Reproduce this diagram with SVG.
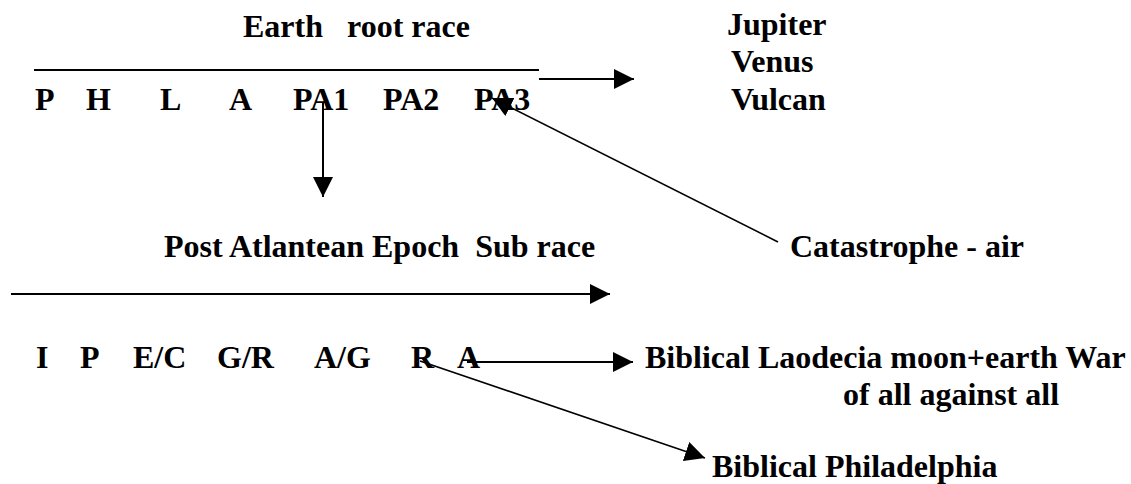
<svg xmlns="http://www.w3.org/2000/svg" width="1131" height="484" viewBox="0 0 1131 484">
<style>
text{font-family:'Liberation Serif','Times New Roman','DejaVu Serif',serif;font-weight:700;font-size:32px;fill:#000;white-space:pre}
.ln{stroke:#000;stroke-width:2;fill:none}
.dg{stroke:#000;stroke-width:1.6;fill:none}
</style>
<defs>
<marker id="ah" viewBox="0 0 20 20" refX="20" refY="10" markerWidth="20" markerHeight="20" markerUnits="userSpaceOnUse" orient="auto">
<path d="M0,0 L20,10 L0,20 z" fill="#000"/>
</marker>
</defs>
<rect width="1131" height="484" fill="#fff"/>
<g font-family="Liberation Serif, Times New Roman, serif">
<g id="title-earth"><text x="243" y="37" xml:space="preserve">Earth   root race</text></g>
<g id="root-races"><text y="110"><tspan x="35">P</tspan><tspan x="86">H</tspan><tspan x="160">L</tspan><tspan x="229">A</tspan><tspan x="293">PA1</tspan><tspan x="383">PA2</tspan><tspan x="474">PA3</tspan></text></g>
<g id="planets"><text x="727" y="35">Jupiter</text><text x="731" y="72">Venus</text><text x="731" y="110">Vulcan</text></g>
<g id="title-post"><text x="164" y="257" xml:space="preserve">Post Atlantean Epoch  Sub race</text></g>
<g id="catastrophe"><text x="790" y="257">Catastrophe - air</text></g>
<g id="sub-races"><text y="368"><tspan x="36">I</tspan><tspan x="80">P</tspan><tspan x="133">E/C</tspan><tspan x="217">G/R</tspan><tspan x="314">A/G</tspan><tspan x="411">R</tspan><tspan x="457">A</tspan></text></g>
<g id="laodecia"><text x="645" y="368">Biblical Laodecia moon+earth War</text><text x="843" y="405">of all against all</text></g>
<g id="philadelphia"><text x="712" y="477">Biblical Philadelphia</text></g>
</g>
<g id="connectors">
<line class="ln" x1="34" y1="70" x2="539" y2="70"/>
<line class="ln" x1="539" y1="79" x2="634" y2="79" marker-end="url(#ah)"/>
<line class="ln" x1="323" y1="103" x2="323" y2="197" marker-end="url(#ah)"/>
<line class="dg" x1="778" y1="242" x2="492" y2="98" marker-end="url(#ah)"/>
<line class="ln" x1="11" y1="294" x2="610" y2="294" marker-end="url(#ah)"/>
<line class="ln" x1="467" y1="362" x2="633" y2="362" marker-end="url(#ah)"/>
<line class="dg" x1="420" y1="361" x2="705" y2="458" marker-end="url(#ah)"/>
</g>
</svg>
